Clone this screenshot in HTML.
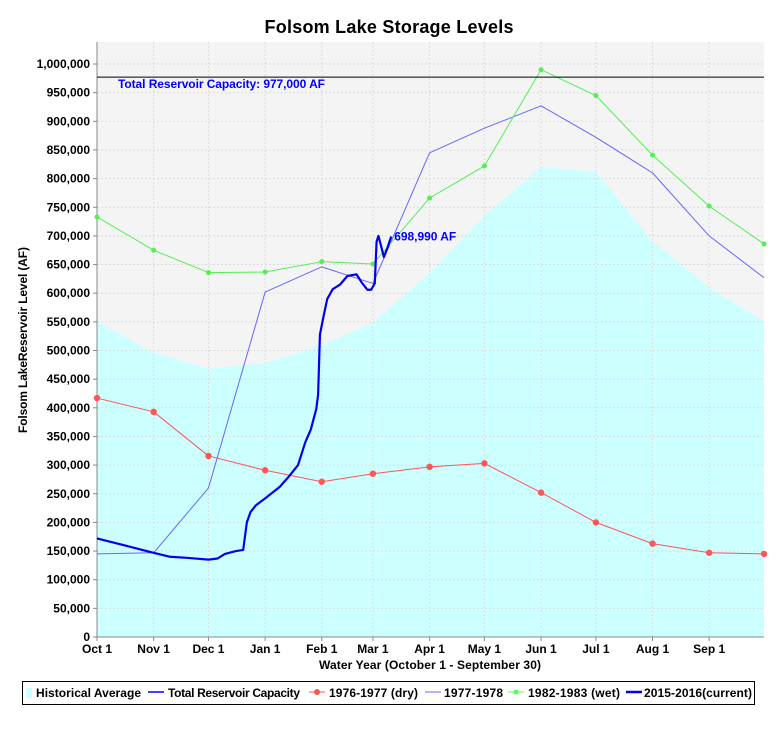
<!DOCTYPE html>
<html><head><meta charset="utf-8"><style>
body{margin:0;background:#fff;font-family:"Liberation Sans",sans-serif}
svg text{font-family:"Liberation Sans",sans-serif}
</style></head><body>
<svg id="c" width="780" height="727" viewBox="0 0 780 727" xmlns="http://www.w3.org/2000/svg">
<rect x="0" y="0" width="780" height="727" fill="#fff"/>
<text x="389" y="33" text-anchor="middle" font-size="18" font-weight="bold" textLength="249">Folsom Lake Storage Levels</text>
<g id="plot"></g>
<text x="430" y="669" text-anchor="middle" font-size="12" font-weight="bold" textLength="222">Water Year (October 1 - September 30)</text>
<text transform="translate(27,340) rotate(-90)" text-anchor="middle" font-size="12" font-weight="bold" textLength="186">Folsom LakeReservoir Level (AF)</text>
<g>
<rect x="22.5" y="681.5" width="732" height="23" fill="#fff" stroke="#000"/>
<rect x="26" y="688" width="6" height="10" fill="#ccffff"/>
<text x="36" y="697" font-size="12" font-weight="bold" textLength="105">Historical Average</text>
<line x1="148" y1="692" x2="164" y2="692" stroke="#0000ff" stroke-width="1.5"/>
<text x="168" y="697" font-size="12" font-weight="bold" textLength="132">Total Reservoir Capacity</text>
<line x1="309" y1="692" x2="325" y2="692" stroke="#ff5555"/><circle cx="317" cy="692" r="3" fill="#ff5555"/>
<text x="329" y="697" font-size="12" font-weight="bold" textLength="89">1976-1977 (dry)</text>
<line x1="425" y1="692" x2="441" y2="692" stroke="#6666ff"/>
<text x="444" y="697" font-size="12" font-weight="bold" textLength="59">1977-1978</text>
<line x1="508" y1="692" x2="524" y2="692" stroke="#55ff55"/><circle cx="516" cy="692" r="2.5" fill="#55ff55"/>
<text x="528" y="697" font-size="12" font-weight="bold" textLength="92">1982-1983 (wet)</text>
<line x1="626" y1="692" x2="642" y2="692" stroke="#0000ee" stroke-width="2.5"/>
<text x="644" y="697" font-size="12" font-weight="bold" textLength="108">2015-2016(current)</text>
</g>
</svg>
<script>
const monthLabels=["Oct 1","Nov 1","Dec 1","Jan 1","Feb 1","Mar 1","Apr 1","May 1","Jun 1","Jul 1","Aug 1","Sep 1"];
const monthDays=[0,31,61,92,123,151,182,212,243,273,304,335,365];
const yTicks=[0,50000,100000,150000,200000,250000,300000,350000,400000,450000,500000,550000,600000,650000,700000,750000,800000,850000,900000,950000,1000000];
const historical=[550000,497000,468000,478000,510000,548000,635000,735000,820000,812000,690000,610000,550000];
const dry1977=[417000,393000,316000,291000,271000,285000,297000,303000,252000,200000,163000,147000,145000];
const y1978=[145000,147000,260000,602000,646000,617000,845000,888000,927000,872000,810000,700000,627000];
const wet1983=[733000,675000,636000,637000,655000,651000,766000,822000,990000,945000,841000,752000,686000];
const capacity=977000;
const currentDays=[0,15,31,40,50,61,66,70,76,80,82,84,87,92,100,105,110,114,117,120,121,122,124,126,129,133,137,142,145,148,150,152,153,154,155,157,159,161];
const currentVals=[172000,160000,147000,140000,138000,135000,137000,145000,150000,152000,200000,218000,230000,242000,262000,280000,300000,340000,362000,398000,423000,528000,560000,590000,607000,615000,630000,633000,618000,606000,606000,617000,690000,700000,688000,663000,680000,698990];

const L=97,R=764,T=42,B=637;
const X=d=>L+d*(R-L)/365;
const Y=v=>B-v*0.000573;
const NS="http://www.w3.org/2000/svg";
const g=document.getElementById('plot');
function mk(t,a,p){const e=document.createElementNS(NS,t);for(const k in a)e.setAttribute(k,a[k]);(p||g).appendChild(e);return e;}

const bg=mk('rect',{x:L,y:T,width:R-L,height:B-T,fill:'#f4f4f4'});


let d='M'+X(0)+','+B;
historical.forEach((v,i)=>{d+=' L'+X(monthDays[i])+','+Y(v);});
d+=' L'+X(365)+','+B+' Z';
const area=mk('path',{d:d,fill:'#ccffff'});


yTicks.forEach(v=>{if(v>0){const l=mk('line',{x1:L,x2:R,y1:Y(v),y2:Y(v),stroke:'#dcdcdc','stroke-dasharray':'2,2','stroke-width':1});}});
monthDays.slice(1,12).forEach(m=>{const l=mk('line',{x1:X(m),x2:X(m),y1:T,y2:B,stroke:'#dcdcdc','stroke-dasharray':'2,2','stroke-width':1});});
const ya=mk('line',{x1:L,x2:L,y1:T,y2:B,stroke:'#888'});
const xa=mk('line',{x1:L,x2:R,y1:B,y2:B,stroke:'#888'});
yTicks.forEach(v=>{
  mk('line',{x1:L-4,x2:L,y1:Y(v),y2:Y(v),stroke:'#888'});
  const t=mk('text',{x:L-7,y:Y(v)+4,'text-anchor':'end','font-size':'12','font-weight':'bold'});
  t.textContent=v.toLocaleString('en-US');
  
  
});
monthLabels.forEach((m,i)=>{
  mk('line',{x1:X(monthDays[i]),x2:X(monthDays[i]),y1:B,y2:B+4,stroke:'#888'});
  const t=mk('text',{x:X(monthDays[i]),y:B+16,'text-anchor':'middle','font-size':'12','font-weight':'bold'});
  t.textContent=m;
  
  
});
function poly(vals,days,color,w,name){
  const p=mk('polyline',{points:vals.map((v,i)=>X(days[i])+','+Y(v)).join(' '),fill:'none',stroke:color,'stroke-width':w,'stroke-linejoin':'round'});
  
  
  return p;
}
poly(dry1977,monthDays,'#ff5555',1,'series-1976-1977');
dry1977.forEach((v,i)=>{const c=mk('circle',{cx:X(monthDays[i]),cy:Y(v),r:3.2,fill:'#ff5555'});});
poly(y1978,monthDays,'#6666ff',1,'series-1977-1978');
poly(wet1983,monthDays,'#55ee55',1,'series-1982-1983');
wet1983.forEach((v,i)=>{const c=mk('circle',{cx:X(monthDays[i]),cy:Y(v),r:2.5,fill:'#55ee55'});});
const cap=mk('line',{x1:L,x2:R,y1:Y(capacity),y2:Y(capacity),stroke:'#000000','stroke-width':1});


const ct=mk('text',{x:118,y:Y(capacity)+11,'font-size':'12','font-weight':'bold',fill:'#0000ff',textLength:'207'});
ct.textContent='Total Reservoir Capacity: 977,000 AF';


poly(currentVals,currentDays,'#0000ee',2.2,'series-2015-2016');
const lv=currentVals[currentVals.length-1];
const cl=mk('text',{x:X(currentDays[currentDays.length-1])+3,y:Y(lv)+4,'font-size':'12','font-weight':'bold',fill:'#0000ff',textLength:'62'});
cl.textContent=lv.toLocaleString('en-US')+' AF';


</script>
</body></html>
